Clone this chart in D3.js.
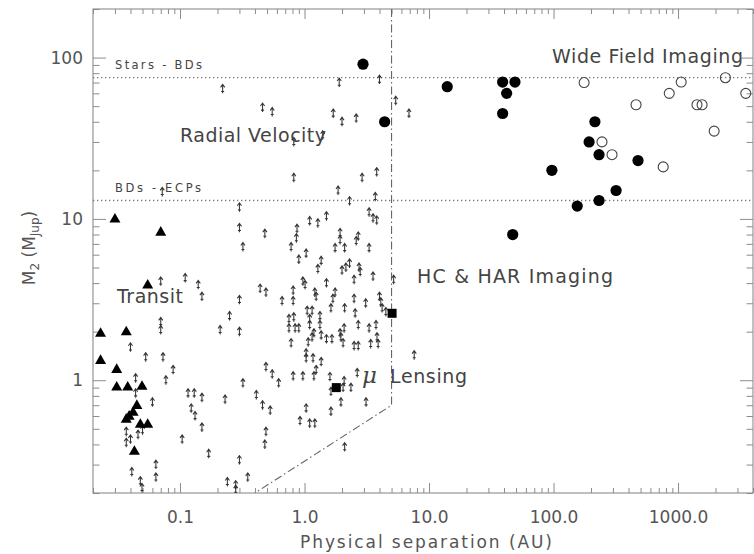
<!doctype html>
<html>
<head>
<meta charset="utf-8">
<title>M2 vs physical separation</title>
<style>
body { margin: 0; background: #fff; }
svg { display: block; font-family: "DejaVu Sans", sans-serif; }
.frame { fill: none; stroke: #8c8c8c; stroke-width: 1.1px; }
.axis path.domain { display: none; }
.axis line { stroke: #8c8c8c; stroke-width: 1px; }
.axis text { fill: #555; font-size: 17px; font-family: "DejaVu Sans", sans-serif; }
.limit { fill: none; stroke: #777; stroke-width: 1.3px; stroke-dasharray: 1.3, 2.7; }
.rvlimit { fill: none; stroke: #666; stroke-width: 1.1px; stroke-dasharray: 8, 3, 1.5, 3; }
.region { fill: #444; font-size: 19px; }
.small { fill: #444; font-size: 11.5px; }
.title { fill: #555; font-size: 17px; }
</style>
</head>
<body>
<svg width="754" height="554"></svg>
<script src="https://cdn.jsdelivr.net/npm/d3@7"></script>
<script>
// tick labels
var xTickValues = [0.1, 1, 10, 100, 1000];
var xTickLabels = ["0.1", "1.0", "10.0", "100.0", "1000.0"];
var yTickValues = [1, 10, 100];
var yTickLabels = ["1", "10", "100"];

// mass boundaries (MJup) and the RV detection limit (AU, MJup)
var massLimits = [75, 13];
var massLimitNames = ["Stars - BDs", "BDs - ECPs"];
var rvLimit = [[5, 200], [5, 0.7], [0.4, 0.2]];

// radial velocity planets, lower limits [AU, MJup]
var rvPlanets = [
  [0.22, 64], [0.46, 49], [0.55, 46], [1.9, 70], [4.0, 73], [1.7, 45], [2.0, 40], [2.6, 42],
  [5.4, 54], [6.9, 45], [0.82, 30], [1.4, 33], [0.82, 18], [2.9, 18], [3.8, 19.5], [1.86, 15],
  [0.072, 14.7], [3.7, 13.7], [2.3, 12.9],
  [0.30, 11.8], [0.30, 8.8], [0.32, 6.7], [0.48, 8.1], [0.87, 8.7], [0.86, 7.6], [0.78, 6.7],
  [1.1, 9.7], [1.28, 9.4], [1.5, 10.4], [3.3, 11], [3.55, 10.1], [3.8, 9.8], [1.93, 8.2],
  [1.93, 7.4], [1.76, 6.6], [2.1, 6.6], [2.7, 7.8], [2.6, 7.3], [3.3, 6.6], [1.03, 6.1],
  [0.90, 5.6], [1.36, 5.5], [1.28, 4.9], [2.3, 5.3], [2.15, 5.0], [2.0, 4.8], [2.74, 5.0],
  [2.8, 4.7], [2.5, 4.2], [3.55, 4.4], [5.2, 4.2], [0.97, 4.1], [1.01, 3.9], [1.5, 4.0],
  [1.21, 3.5], [1.24, 3.3], [1.76, 3.5], [1.69, 3.2], [0.81, 3.6], [0.81, 3.1], [0.66, 3.1],
  [0.44, 3.7], [0.49, 3.5], [0.30, 3.15], [0.15, 3.3], [0.14, 3.9], [0.11, 4.3], [0.070, 4.1],
  [2.5, 3.2], [3.1, 3.0], [4.0, 3.3], [4.1, 3.05], [4.2, 2.8], [4.5, 2.65], [1.63, 2.8],
  [2.1, 2.8], [2.55, 2.6], [1.05, 2.7], [1.15, 2.7], [1.1, 2.4], [1.33, 2.5], [0.82, 2.46],
  [0.75, 2.4], [0.75, 2.1], [0.84, 2.1], [0.90, 2.1], [1.1, 2.2], [1.33, 2.2], [1.19, 1.96],
  [1.15, 1.85], [1.36, 1.9], [1.5, 1.8], [1.66, 1.8], [1.93, 1.96], [1.96, 1.85], [2.04, 1.7],
  [2.08, 2.1], [2.7, 2.2], [3.3, 2.1], [3.75, 2.2], [3.82, 1.85], [3.9, 1.68], [3.4, 1.68],
  [2.5, 1.63], [2.7, 1.63], [1.07, 1.72], [0.78, 1.7], [0.25, 2.5], [0.21, 2.05], [0.30, 2.0],
  [0.070, 2.3], [0.070, 2.05], [0.040, 1.6], [7.6, 1.43],
  [0.053, 1.39], [0.073, 1.39], [0.088, 1.16], [0.077, 1.0], [0.044, 1.03], [0.044, 0.83],
  [0.060, 0.73], [0.116, 0.83], [0.13, 0.83], [0.15, 0.78], [0.123, 0.67], [0.132, 0.60],
  [0.15, 0.51], [0.104, 0.43], [0.17, 0.35], [0.23, 0.76], [0.32, 0.96], [0.41, 0.81],
  [0.49, 1.21], [0.55, 1.09], [0.62, 0.96], [0.46, 0.70], [0.53, 0.65], [0.49, 0.48],
  [0.48, 0.40], [0.30, 0.32], [0.35, 0.25], [0.24, 0.234], [0.28, 0.224], [0.28, 0.21],
  [0.81, 1.06], [0.97, 1.06], [1.19, 1.06], [1.24, 1.16], [1.36, 1.3], [1.03, 1.47],
  [1.03, 1.37], [1.17, 1.37], [1.6, 1.05], [2.65, 1.11], [2.08, 0.99], [2.04, 0.9],
  [2.36, 0.9], [1.96, 0.73], [1.63, 0.85], [3.12, 0.73], [1.03, 0.67], [0.92, 0.56],
  [1.1, 0.54], [1.21, 0.54], [1.63, 0.64], [2.1, 0.385], [0.041, 0.27], [0.064, 0.30],
  [0.064, 0.25], [0.048, 0.237], [0.0495, 0.215], [0.037, 0.48], [0.037, 0.41],
  [0.040, 0.43], [0.046, 0.46], [0.050, 0.49]
];

// transiting planets [AU, MJup]
var transitPlanets = [
  [0.030, 10], [0.070, 8.3], [0.055, 3.9], [0.023, 1.96], [0.037, 2.0], [0.023, 1.33],
  [0.031, 1.17], [0.031, 0.91], [0.038, 0.91], [0.0495, 0.92], [0.045, 0.70], [0.042, 0.635],
  [0.039, 0.60], [0.037, 0.575], [0.048, 0.535], [0.055, 0.535], [0.043, 0.364]
];

// high contrast imaging companions [AU, MJup]
var imagedCompanions = [
  [2.95, 91], [4.4, 40], [14, 66], [39, 70.5], [49, 70.5], [42, 60], [39, 45], [215, 40],
  [193, 30], [232, 25], [477, 23], [97, 20], [318, 15], [232, 13], [155, 12], [47, 8]
];

// wide field imaging companions [AU, MJup]
var wideCompanions = [
  [176, 70], [460, 51], [245, 30], [295, 25], [760, 21], [850, 60], [1060, 70.5],
  [2400, 75], [1420, 51], [1560, 51], [1950, 35], [3500, 60]
];

// microlensing planets [AU, MJup]
var lensingPlanets = [[1.8, 0.9], [5.05, 2.6]];

var svg = d3.select("svg"),
    plotLeft = 93, plotRight = 753, plotTop = 9, plotBottom = 493;

var x = d3.scaleLog().domain([0.02, 4000]).range([plotLeft, plotRight]);
var y = d3.scaleLog().domain([0.2, 200]).range([plotBottom, plotTop]);

function minorTicks(lo, hi) {
    var out = [];
    for (var e = -2; e <= 3; e++) {
        for (var m = 2; m <= 9; m++) {
            var v = m * Math.pow(10, e);
            if (v >= lo * 0.999 && v <= hi * 1.001) out.push(v);
        }
    }
    return out;
}
var xMinor = minorTicks(0.02, 4000),
    yMinor = minorTicks(0.2, 200);

// axes, ticks pointing inward on all four sides
svg.append("g").attr("class", "axis").attr("transform", "translate(0," + plotBottom + ")")
    .call(d3.axisBottom(x).tickValues(xTickValues).tickSize(-10).tickPadding(18)
        .tickFormat(function(d, i) { return xTickLabels[i]; }));
svg.append("g").attr("class", "axis").attr("transform", "translate(0," + plotBottom + ")")
    .call(d3.axisBottom(x).tickValues(xMinor).tickSize(-5).tickFormat(""));
svg.append("g").attr("class", "axis").attr("transform", "translate(0," + plotTop + ")")
    .call(d3.axisTop(x).tickValues(xTickValues).tickSize(-10).tickFormat(""));
svg.append("g").attr("class", "axis").attr("transform", "translate(0," + plotTop + ")")
    .call(d3.axisTop(x).tickValues(xMinor).tickSize(-5).tickFormat(""));

svg.append("g").attr("class", "axis").attr("transform", "translate(" + plotLeft + ",0)")
    .call(d3.axisLeft(y).tickValues(yTickValues).tickSize(-13).tickPadding(10)
        .tickFormat(function(d, i) { return yTickLabels[i]; }));
svg.append("g").attr("class", "axis").attr("transform", "translate(" + plotLeft + ",0)")
    .call(d3.axisLeft(y).tickValues(yMinor).tickSize(-6.5).tickFormat(""));
svg.append("g").attr("class", "axis").attr("transform", "translate(" + plotRight + ",0)")
    .call(d3.axisRight(y).tickValues(yTickValues).tickSize(-13).tickFormat(""));
svg.append("g").attr("class", "axis").attr("transform", "translate(" + plotRight + ",0)")
    .call(d3.axisRight(y).tickValues(yMinor).tickSize(-6.5).tickFormat(""));

svg.append("rect").attr("class", "frame")
    .attr("x", plotLeft).attr("y", plotTop)
    .attr("width", plotRight - plotLeft).attr("height", plotBottom - plotTop);

svg.append("defs").append("clipPath").attr("id", "plot")
    .append("rect").attr("x", plotLeft).attr("y", plotTop)
    .attr("width", plotRight - plotLeft).attr("height", plotBottom - plotTop);

var g = svg.append("g").attr("clip-path", "url(#plot)");

// mass boundaries
g.selectAll(".limit").data(massLimits).enter().append("line")
    .attr("class", "limit")
    .attr("x1", plotLeft).attr("x2", plotRight)
    .attr("y1", function(d) { return y(d); }).attr("y2", function(d) { return y(d); });

// RV limit
g.append("path").attr("class", "rvlimit")
    .attr("d", d3.line().x(function(d) { return x(d[0]); }).y(function(d) { return y(d[1]); })(rvLimit));

// RV lower limits drawn as small up arrows
var arrow = "M0,4.5V-4.5M-2.1,-1.5L0,-4.5L2.1,-1.5M-1.5,2.6H1.5";
g.selectAll(".rv").data(rvPlanets).enter().append("path")
    .attr("class", "rv")
    .attr("d", arrow)
    .attr("transform", function(d) { return "translate(" + x(d[0]) + "," + y(d[1]) + ")"; })
    .attr("fill", "none").attr("stroke", "#333").attr("stroke-width", 1.05);

g.selectAll(".transit").data(transitPlanets).enter().append("path")
    .attr("class", "transit")
    .attr("d", "M0,-5.9L5.5,3.7H-5.5Z")
    .attr("transform", function(d) { return "translate(" + x(d[0]) + "," + y(d[1]) + ")"; })
    .attr("fill", "#000");

g.selectAll(".img").data(imagedCompanions).enter().append("circle")
    .attr("class", "img")
    .attr("cx", function(d) { return x(d[0]); })
    .attr("cy", function(d) { return y(d[1]); })
    .attr("r", 5.6).attr("fill", "#000");

g.selectAll(".wide").data(wideCompanions).enter().append("circle")
    .attr("class", "wide")
    .attr("cx", function(d) { return x(d[0]); })
    .attr("cy", function(d) { return y(d[1]); })
    .attr("r", 5).attr("fill", "none").attr("stroke", "#444").attr("stroke-width", 1.1);

g.selectAll(".lens").data(lensingPlanets).enter().append("rect")
    .attr("class", "lens")
    .attr("x", function(d) { return x(d[0]) - 4.5; })
    .attr("y", function(d) { return y(d[1]) - 4.5; })
    .attr("width", 9).attr("height", 9).attr("fill", "#000");

// boundary names
svg.selectAll(".small").data(massLimits).enter().append("text")
    .attr("class", "small")
    .attr("x", 115)
    .attr("y", function(d) { return y(d) - 9; })
    .attr("textLength", function(d, i) { return i === 0 ? 87 : 86; })
    .text(function(d, i) { return massLimitNames[i]; });

// region labels
function label(txt, px, py, w) {
    svg.append("text").attr("class", "region").attr("x", px).attr("y", py)
        .attr("textLength", w).text(txt);
}
label("Wide Field Imaging", 552, 63, 191);
label("Radial Velocity", 180, 142, 146);
label("Transit", 117, 303, 66);
label("HC & HAR Imaging", 417, 283, 196);
label("Lensing", 390, 383, 77);
svg.append("text").attr("class", "region").attr("x", 362).attr("y", 383)
    .style("font-style", "italic").style("font-family", "DejaVu Serif, serif")
    .style("font-size", "23px").attr("fill", "#222").text("\u03bc");

// axis titles
svg.append("text").attr("class", "title").attr("x", 426).attr("y", 548)
    .attr("text-anchor", "middle").attr("textLength", 252)
    .text("Physical separation (AU)");

var yt = svg.append("text").attr("class", "title")
    .attr("transform", "translate(35,248) rotate(-90)").attr("text-anchor", "middle");
yt.append("tspan").text("M");
yt.append("tspan").attr("dy", 4).style("font-size", "12px").text("2");
yt.append("tspan").attr("dy", -4).text(" (M");
yt.append("tspan").attr("dy", 4).style("font-size", "12px").text("Jup");
yt.append("tspan").attr("dy", -4).text(")");
</script>
</body>
</html>
